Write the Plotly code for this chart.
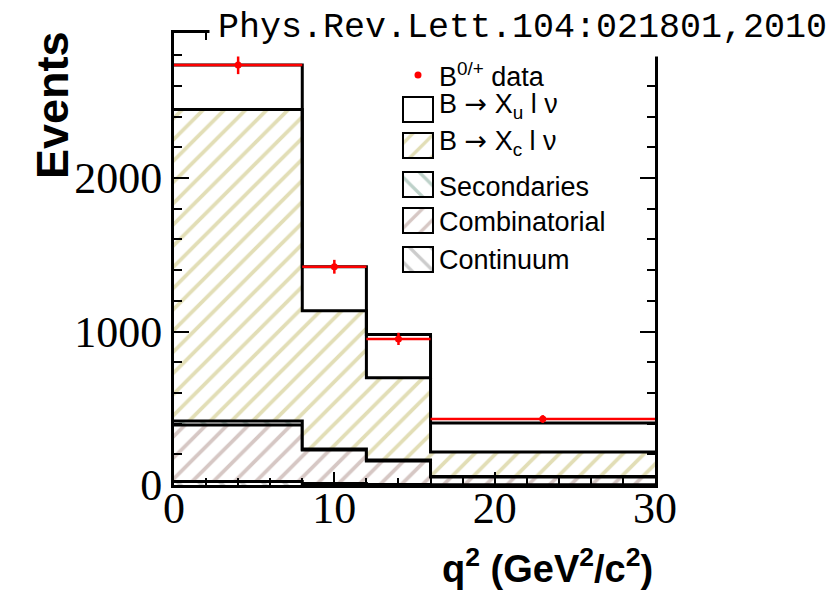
import numpy as np
import plotly.graph_objects as go

# q^2 binning (GeV^2/c^2)
bin_edges = [0, 8, 12, 16, 30]

# Stacked MC components, bottom to top (events per bin)
continuum = [22, 10, 3, 2]
combinatorial = [369, 218, 154, 50]
secondaries = [26, 7, 6, 3]
b_xc_lnu = [2029, 900, 535, 160]
b_xu_lnu = [291, 287, 282, 189]

# B0/+ data with statistical errors
data_counts = [2737, 1422, 952, 430]
data_errors = [60, 45, 40, 25]

ARROW = '<span style="font-family:DejaVu Sans">→</span>'
XU = "B " + ARROW + " X<sub>u</sub> l ν"
XC = "B " + ARROW + " X<sub>c</sub> l ν"

COL_CONT = "#999999"
COL_COMB = "#ad9089"
COL_SEC = "#7ba393"
COL_XC = "#c6bd6e"

layers = [
    ("Continuum", continuum, "\\", COL_CONT),
    ("Combinatorial", combinatorial, "/", COL_COMB),
    ("Secondaries", secondaries, "\\", COL_SEC),
    (XC, b_xc_lnu, "/", COL_XC),
    (XU, b_xu_lnu, "", "#ffffff"),
]

edges = np.array(bin_edges, dtype=float)
centers = 0.5 * (edges[:-1] + edges[1:])
half_widths = 0.5 * np.diff(edges)

fig = go.Figure()

cum = np.zeros(len(centers))
for i, (name, vals, shape, col) in enumerate(layers):
    cum = cum + np.array(vals, dtype=float)
    ys = list(cum) + [cum[-1]]
    kw = dict(fillcolor="white")
    if shape:
        kw = dict(fillpattern=dict(shape=shape, fgcolor=col, bgcolor="white",
                                   size=15, solidity=0.25))
    fig.add_trace(go.Scatter(
        x=edges, y=ys, mode="lines", line=dict(shape="hv", color="black", width=3),
        fill="tozeroy" if i == 0 else "tonexty", showlegend=False,
        hoverinfo="skip", **kw))

fig.add_trace(go.Scatter(
    x=centers, y=data_counts, mode="markers",
    marker=dict(color="red", size=7),
    error_x=dict(type="data", array=half_widths, color="red", thickness=2.5, width=0),
    error_y=dict(type="data", array=data_errors, color="red", thickness=2.5, width=0),
    showlegend=False, cliponaxis=False))

# Legend drawn on a pixel-scaled overlay axis pair
legend_rows = [
    (XU, "", "#ffffff", 97, 105),
    (XC, "/", COL_XC, 133, 142),
    ("Secondaries", "\\", COL_SEC, 172, 187),
    ("Combinatorial", "/", COL_COMB, 208, 222),
    ("Continuum", "\\", COL_CONT, 247, 260),
]
bx_c, bw, bh = 418, 30, 25
for label, shape, col, top, ty in legend_rows:
    fig.add_trace(go.Bar(
        x=[bx_c], y=[bh], base=[top], width=[bw],
        marker=dict(color="white", line=dict(color="black", width=2),
                    pattern=dict(shape=shape, fgcolor=col, bgcolor="white",
                                 size=15, solidity=0.22)),
        xaxis="x2", yaxis="y2", showlegend=False, hoverinfo="skip"))
fig.add_trace(go.Scatter(x=[418], y=[75], mode="markers",
                         marker=dict(color="red", size=7),
                         xaxis="x2", yaxis="y2", showlegend=False, hoverinfo="skip"))

leg_font = dict(family="Liberation Sans, Arial, sans-serif", size=27, color="black")
annotations = [
    dict(x=437, y=75, xref="x2", yref="y2", text="B<sup>0/+</sup> data",
         showarrow=False, xanchor="left", yanchor="middle", font=leg_font),
]
for label, shape, col, top, ty in legend_rows:
    annotations.append(dict(x=437, y=ty, xref="x2", yref="y2", text=label,
                            showarrow=False, xanchor="left", yanchor="middle",
                            font=leg_font))

W, H = 829, 591
L, R, T, B = 174, 174, 33, 106
pw, ph = W - L - R, H - T - B


def px_x(x):
    return (x - L) / pw


def px_y(y):
    return (H - B - y) / ph


annotations += [
    dict(x=px_x(209), y=px_y(57), xref="paper", yref="paper",
         text="Phys.Rev.Lett.104:021801,2010", showarrow=False,
         xanchor="left", yanchor="bottom", bgcolor="white", borderpad=8,
         font=dict(family="Liberation Mono, Courier New, monospace", size=35, color="black")),
    dict(x=px_x(52), y=px_y(105), xref="paper", yref="paper", text="<b>Events</b>",
         textangle=-90, showarrow=False, xanchor="center", yanchor="middle",
         font=dict(family="Liberation Sans, Arial, sans-serif", size=45, color="black")),
    dict(x=px_x(655), y=px_y(566), xref="paper", yref="paper",
         text="<b>q<sup>2</sup> (GeV<sup>2</sup>/c<sup>2</sup>)</b>",
         showarrow=False, xanchor="right", yanchor="middle",
         font=dict(family="Liberation Sans, Arial, sans-serif", size=38, color="black")),
]

tick_font = dict(family="Liberation Serif, Times New Roman, serif", size=44, color="black")
fig.update_layout(
    width=W, height=H,
    margin=dict(l=L, r=R, t=T, b=B, pad=0),
    paper_bgcolor="white", plot_bgcolor="white",
    showlegend=False, barmode="overlay",
    annotations=annotations,
    xaxis=dict(range=[0, 30], dtick=10, tick0=0, showgrid=False, zeroline=False,
               showline=True, linecolor="black", linewidth=3, mirror="ticks",
               ticks="inside", ticklen=13, tickwidth=2, tickcolor="black",
               minor=dict(dtick=2, ticks="inside", ticklen=7, tickwidth=2, tickcolor="black"),
               tickfont=tick_font, ticklabelstandoff=-18),
    yaxis=dict(range=[0, 2945], dtick=1000, tick0=0, showgrid=False, zeroline=False,
               showline=True, linecolor="black", linewidth=3, mirror="ticks",
               ticks="inside", ticklen=15, tickwidth=2, tickcolor="black",
               minor=dict(dtick=200, ticks="inside", ticklen=8, tickwidth=2, tickcolor="black"),
               tickfont=tick_font),
    xaxis2=dict(range=[L, W - R], overlaying="x", anchor="y2", visible=False),
    yaxis2=dict(range=[H - B, T], overlaying="y", anchor="x2", visible=False),
)

fig.write_html("out.html")
